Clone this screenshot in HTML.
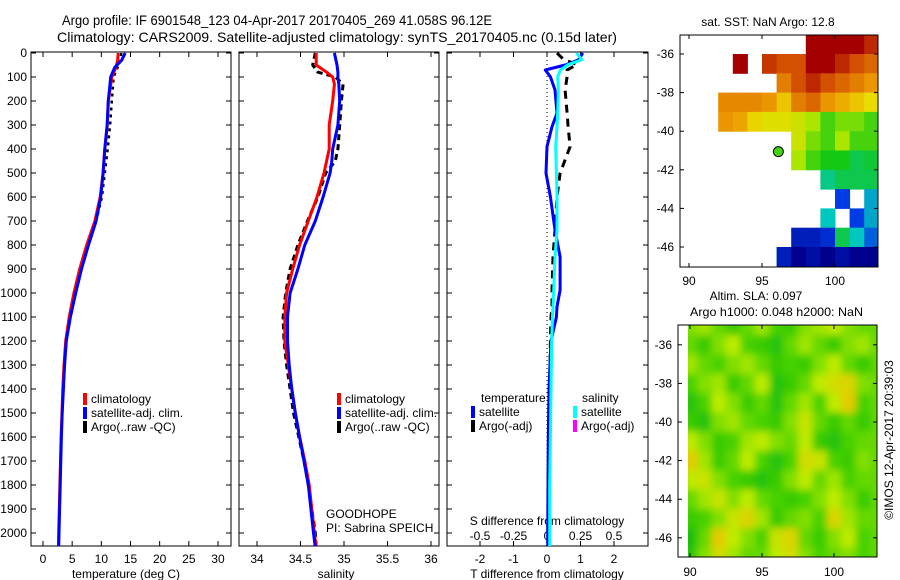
<!DOCTYPE html>
<html><head><meta charset="utf-8"><style>
html,body{margin:0;padding:0;background:#fff;}
svg{display:block;font-family:"Liberation Sans",Helvetica,sans-serif;}
text{fill:#000;font-size:12px;}
</style></head><body>
<svg id="fig" width="900" height="580" viewBox="0 0 900 580">
<defs>
<clipPath id="c1"><rect x="31" y="52" width="200" height="494"/></clipPath>
<clipPath id="c2"><rect x="239" y="52" width="200" height="494"/></clipPath>
<clipPath id="c3"><rect x="447" y="52" width="201" height="494"/></clipPath>
<clipPath id="cm1"><rect x="680" y="35" width="198" height="232"/></clipPath>
<clipPath id="cm2"><rect x="688" y="325" width="189" height="232"/></clipPath>
<filter id="blur" x="-5%" y="-5%" width="110%" height="110%"><feGaussianBlur stdDeviation="4"/></filter>
</defs>
<text x="62" y="25" textLength="430" lengthAdjust="spacingAndGlyphs" style="font-size:14px">Argo profile: IF 6901548_123 04-Apr-2017 20170405_269 41.058S 96.12E</text>
<text x="57" y="42" textLength="560" lengthAdjust="spacingAndGlyphs" style="font-size:14px">Climatology: CARS2009. Satellite-adjusted climatology: synTS_20170405.nc (0.15d later)</text>
<text x="768" y="26" text-anchor="middle">sat. SST: NaN Argo: 12.8</text>
<text x="756" y="300" text-anchor="middle">Altim. SLA: 0.097</text>
<text x="690" y="316" textLength="173" lengthAdjust="spacingAndGlyphs">Argo h1000: 0.048 h2000: NaN</text>
<text transform="translate(893,440) rotate(-90)" text-anchor="middle">©IMOS 12-Apr-2017 20:39:03</text>
<g id="root"></g>
</svg>
<script>
// ---- profile data ----
const depthT = [0,30,60,100,200,300,400,500,600,700,800,900,1000,1100,1200,1300,1400,1500,1600,1700,1800,1900,2000,2060];
const tempClim = [12.9,12.8,12.5,11.8,11.2,11.0,10.6,10.3,9.8,8.9,7.5,6.3,5.3,4.5,3.9,3.6,3.4,3.25,3.1,3.0,2.9,2.8,2.7,2.65];
const tempSat  = [14.1,13.5,12.3,11.6,11.2,11.0,10.6,10.3,9.9,9.1,7.8,6.6,5.6,4.7,4.0,3.7,3.5,3.3,3.15,3.05,2.95,2.85,2.75,2.7];
const tempArgo = [13.4,13.3,12.8,12.1,11.8,11.5,11.1,10.6,10.1,9.1,7.7,6.5,5.5,4.6,4.0,3.7,3.5,3.3,3.1,3.0,2.9,2.8,2.7,2.65];

const depthS = [0,50,80,100,130,200,300,400,450,500,600,700,800,900,1000,1100,1200,1300,1400,1500,1600,1700,1800,1900,2000,2060];
const salClim = [34.68,34.68,34.80,34.87,34.89,34.87,34.83,34.83,34.80,34.77,34.69,34.59,34.49,34.41,34.34,34.32,34.32,34.36,34.40,34.44,34.49,34.55,34.60,34.63,34.66,34.68];
const salSat  = [34.89,34.92,34.93,34.93,34.94,34.95,34.93,34.87,34.86,34.84,34.76,34.67,34.55,34.47,34.38,34.35,34.35,34.37,34.40,34.44,34.49,34.54,34.59,34.62,34.65,34.67];
const salArgo = [34.67,34.64,34.70,34.90,34.99,34.97,34.95,34.93,34.90,34.79,34.70,34.58,34.47,34.38,34.33,34.30,34.31,34.34,34.38,34.42,34.48,34.54,34.59,34.63,34.67,34.68];

const depthD = [0,28,48,71,99,154,251,307,390,501,599,738,849,988,1057,1100,1200,1400,1600,1800,2000,2060];
const dTsat  = [1.07,0.95,0.6,-0.05,0.1,0.24,0.3,0.15,0.0,-0.03,0.1,0.24,0.39,0.39,0.3,0.28,0.12,0.06,0.04,0.03,0.02,0.02];
const dTargo = [0.3,0.5,0.9,0.6,0.6,0.54,0.6,0.63,0.69,0.39,0.3,0.24,0.18,0.15,0.15,0.12,0.1,0.08,0.06,0.05,0.04,0.04];
const dSsat  = [0.22,0.26,0.16,0.1,0.08,0.085,0.08,0.075,0.065,0.07,0.075,0.075,0.06,0.05,0.045,0.04,0.035,0.03,0.025,0.02,0.02,0.02];

// ---- map data ----
const sstLons = [90,91,92,93,94,95,96,97,98,99,100,101,102];
const sstLatTops = [-35,-36,-37,-38,-39,-40,-41,-42,-43,-44,-45,-46];
const N = null;
const sstVals = [
 [N,N,N,N,N,N,N,N,17,17,17,17,16.5],
 [N,N,N,17,N,16.3,16,16,17,17,16.5,16,15.5],
 [N,N,N,N,N,N,15,16,16.5,16,15.5,15,14.5],
 [N,N,14.8,14.8,14.8,14.5,13.5,15,15.5,14.5,14,13.5,13],
 [N,N,14.5,14.2,13.2,12.8,12.8,12.5,12,11,11.5,11.5,11],
 [N,N,N,N,N,N,N,12.5,11.5,11,12,11,11],
 [N,N,N,N,N,N,N,12,11,10.5,10.5,10,10.2],
 [N,N,N,N,N,N,N,N,N,9.5,10,10,10],
 [N,N,N,N,N,N,N,N,N,N,7,N,8.5],
 [N,N,N,N,N,N,N,N,N,9,N,7,8.5],
 [N,N,N,N,N,N,N,6,6,6.5,10,9,7.5],
 [N,N,N,N,N,N,6,5,5.5,5,5.5,5,5]
];
const argoLon = 96.12, argoLat = -41.06, argoSST = 11;

const slaLons = [90,91,92,93,94,95,96,97,98,99,100,101,102];
const slaLats = [-35,-36,-37,-38,-39,-40,-41,-42,-43,-44,-45,-46,-47];
const slaVals = [
 [0.6,0.7,0.5,0.3,0.5,0.7,0.4,0.3,0.6,0.7,0.8,0.6,0.5],
 [0.5,0.3,0.6,0.8,0.4,0.3,0.2,0.5,0.7,0.5,0.3,0.6,0.7],
 [0.7,0.5,0.4,0.6,0.7,0.5,0.3,0.4,0.3,0.6,0.8,0.5,0.3],
 [0.4,0.6,0.7,0.3,0.5,0.8,0.2,0.3,0.5,0.8,1.0,1.1,0.6],
 [0.2,0.4,0.8,0.6,0.3,0.5,0.2,0.5,0.7,0.4,0.8,1.2,0.4],
 [0.3,0.2,0.6,0.7,0.5,0.4,0.3,0.6,0.9,0.5,0.3,0.5,0.3],
 [0.8,0.6,0.3,0.4,0.7,0.8,0.6,0.5,0.8,0.3,0.2,0.4,0.5],
 [1.2,0.7,0.3,0.5,0.8,0.4,0.2,0.4,1.0,0.9,0.4,0.3,0.6],
 [0.8,0.9,0.6,0.4,0.3,0.2,0.3,0.6,0.8,0.5,0.7,0.4,0.5],
 [0.5,0.7,0.9,0.6,0.8,0.5,0.4,0.3,0.4,0.6,0.8,0.6,0.3],
 [0.3,0.4,0.6,0.9,1.1,0.7,0.3,0.5,0.6,0.4,1.1,0.7,0.5],
 [0.1,0.5,1.2,0.8,0.6,0.4,0.9,1.1,0.5,0.3,0.6,0.8,0.4],
 [0.2,0.6,1.0,0.7,0.5,0.5,0.8,1.0,0.6,0.4,0.5,0.6,0.4]
];

const depthTicks = [0,100,200,300,400,500,600,700,800,900,1000,1100,1200,1300,1400,1500,1600,1700,1800,1900,2000];
const tempTicks = [0,5,10,15,20,25,30];
const salTicks = [34,34.5,35,35.5,36];
const salTickLabels = ["34","34.5","35","35.5","36"];
const dTTicks = [-2,-1,0,1,2];
const dSTicks = [-0.5,-0.25,0,0.25,0.5];
const dSTickLabels = ["-0.5","-0.25","0","0.25","0.5"];
const lonTicks = [90,95,100];
const latTicks = [-36,-38,-40,-42,-44,-46];

// ---- scales ----
const yD = d => 53 + d*0.24;
const xT = t => 43 + t*5.833;
const xS = s => 257 + (s-34)*87;
const xDT = v => 547 + v*33.5;
const xDS = v => 547 + v*134;
const m1x = l => 689 + (l-90)*14.6;
const m1y = l => 54 + (-36-l)*19.3;
const m2x = l => 690 + (l-90)*14.4;
const m2y = l => 422 + (-40-l)*19.3;

const NS = "http://www.w3.org/2000/svg";
const root = document.getElementById('root');
function mk(tag, attrs, parent){
  const e = document.createElementNS(NS, tag);
  for (const k in attrs) e.setAttribute(k, attrs[k]);
  (parent||root).appendChild(e);
  return e;
}
function txt(x,y,s,anchor,parent){
  const e = mk('text',{x:x,y:y,'text-anchor':anchor||'start'},parent);
  e.textContent = s;
  return e;
}
function line(xs, ys, xf, vals, depths, color, width, dash, clip, name){
  const pts = depths.map((d,i)=> xf(vals[i]).toFixed(1)+','+yD(d).toFixed(1)).join(' ');
  const a = {points:pts, fill:'none', stroke:color, 'stroke-width':width, 'stroke-linejoin':'round', 'clip-path':'url(#'+clip+')'};
  if (dash) a['stroke-dasharray'] = dash;
  const p = mk('polyline', a);
  
  
  return p;
}
function panelFrame(x0, x1, name){
  const g = mk('g',{});
  
  
  mk('rect',{x:x0,y:52,width:x1-x0,height:494,fill:'none',stroke:'#000','stroke-width':1},g);
  depthTicks.forEach(d=>{
    mk('line',{x1:x0,x2:x0+5,y1:yD(d),y2:yD(d),stroke:'#000'},g);
    mk('line',{x1:x1-5,x2:x1,y1:yD(d),y2:yD(d),stroke:'#000'},g);
  });
  return g;
}
function xTicks(g, ticks, labels, xf){
  ticks.forEach((t,i)=>{
    const x = xf(t);
    mk('line',{x1:x,x2:x,y1:52,y2:57,stroke:'#000'},g);
    mk('line',{x1:x,x2:x,y1:541,y2:546,stroke:'#000'},g);
    const e = txt(x,563,labels[i],'middle',g);
    
    
  });
}
function legendBar(x,y,color,label,g){
  mk('rect',{x:x,y:y-10,width:4,height:12,fill:color},g);
  txt(x+8,y,label,'start',g);
}

// Panel 1 temperature
const g1 = panelFrame(31,231,'temperature-panel');
xTicks(g1, tempTicks, tempTicks.map(String), xT);
depthTicks.forEach(d=>{
  const e = txt(27, yD(d)+4, String(d), 'end', g1);
  
  
});
const xl1 = txt(126,578,'temperature (deg C)','middle',g1);


line(0,0,xT,tempArgo,depthT,'#000',2.5,'3,4','c1','temp-argo-line');
line(0,0,xT,tempClim,depthT,'#ff0000',3,null,'c1','temp-climatology-line');
line(0,0,xT,tempSat,depthT,'#0000ff',3,null,'c1','temp-satellite-line');
const lg1 = mk('g',{});


legendBar(83,403,'#ff0000','climatology',lg1);
legendBar(83,417,'#0000ff','satellite-adj. clim.',lg1);
legendBar(83,431,'#000','Argo(..raw -QC)',lg1);

// Panel 2 salinity
const g2 = panelFrame(239,439,'salinity-panel');
xTicks(g2, salTicks, salTickLabels, xS);
const xl2 = txt(336,578,'salinity','middle',g2);


line(0,0,xS,salArgo,depthS,'#000',3,'6,4','c2','sal-argo-line');
line(0,0,xS,salClim,depthS,'#ff0000',3,null,'c2','sal-climatology-line');
line(0,0,xS,salSat,depthS,'#0000ff',3,null,'c2','sal-satellite-line');
const lg2 = mk('g',{});


legendBar(337,403,'#ff0000','climatology',lg2);
legendBar(337,417,'#0000ff','satellite-adj. clim.',lg2);
legendBar(337,431,'#000','Argo(..raw -QC)',lg2);
const gh = txt(326,518,'GOODHOPE','start',g2);


const pi = txt(326,532,'PI: Sabrina SPEICH','start',g2);



// Panel 3 difference
const g3 = panelFrame(447,648,'difference-panel');
xTicks(g3, dTTicks, dTTicks.map(String), xDT);
dSTicks.forEach((t,i)=>{
  const e = txt(xDS(t),540,dSTickLabels[i],'middle',g3);
  
  
});
const st = txt(547,525,'S difference from climatology','middle',g3);


const tt = txt(547,578,'T difference from climatology','middle',g3);


const zl = mk('line',{x1:xDT(0),x2:xDT(0),y1:52,y2:546,stroke:'#000','stroke-dasharray':'1,3','stroke-width':1});


line(0,0,xDT,dTargo,depthD,'#000',3,'8,6','c3','t-diff-argo-line');
line(0,0,xDT,dTsat,depthD,'#0000ff',3,null,'c3','t-diff-satellite-line');
line(0,0,xDS,dSsat,depthD,'#00ffff',3,null,'c3','s-diff-satellite-line');
const lg3 = mk('g',{});


txt(481,402,'temperature','start',lg3);
txt(582,402,'salinity','start',lg3);
legendBar(471,416,'#0000ff','satellite',lg3);
legendBar(471,430,'#000','Argo(-adj)',lg3);
legendBar(573,416,'#00ffff','satellite',lg3);
legendBar(573,430,'#ff00ff','Argo(-adj)',lg3);

// colormaps
function interp(stops, v){
  if (v<=stops[0][0]) return 'rgb('+stops[0][1].join(',')+')';
  const L = stops[stops.length-1];
  if (v>=L[0]) return 'rgb('+L[1].join(',')+')';
  for (let i=0;i<stops.length-1;i++){
    const a=stops[i], b=stops[i+1];
    if (v>=a[0] && v<=b[0]){
      const f=(v-a[0])/(b[0]-a[0]);
      return 'rgb('+[0,1,2].map(k=>Math.round(a[1][k]+(b[1][k]-a[1][k])*f)).join(',')+')';
    }
  }
}
const sstStops = [[5,[0,0,140]],[7,[0,60,230]],[9,[0,200,190]],[10.5,[20,200,20]],[12,[170,230,0]],[13,[235,220,0]],[14.5,[235,150,0]],[16,[210,80,0]],[17,[165,0,0]]];
const slaStops = [[0,[10,180,20]],[0.4,[70,210,0]],[0.8,[190,235,0]],[1.3,[240,195,0]]];

function mapFrame(x0,y0,x1,y1,xf,yf,labelY,name){
  const g = mk('g',{});
  
  
  mk('rect',{x:x0,y:y0,width:x1-x0,height:y1-y0,fill:'none',stroke:'#000'},g);
  lonTicks.forEach(l=>{
    const x = xf(l);
    mk('line',{x1:x,x2:x,y1:y1-4,y2:y1,stroke:'#000'},g);
    mk('line',{x1:x,x2:x,y1:y0,y2:y0+4,stroke:'#000'},g);
    const e = txt(x,labelY,String(l),'middle',g);
    
    
  });
  latTicks.forEach(l=>{
    const y = yf(l);
    mk('line',{x1:x0,x2:x0+4,y1:y,y2:y,stroke:'#000'},g);
    mk('line',{x1:x1-4,x2:x1,y1:y,y2:y,stroke:'#000'},g);
    const e = txt(x0-6,y+4,String(l),'end',g);
    
    
  });
}

// SST map
const sstG = mk('g',{'clip-path':'url(#cm1)'});


sstLatTops.forEach((lt,r)=>{
  sstLons.forEach((ln,c)=>{
    const v = sstVals[r][c];
    if (v===null) return;
    const x = m1x(ln), y = m1y(lt);
    const cell = mk('rect',{x:x.toFixed(1),y:y.toFixed(1),width:(m1x(ln+1)-x+0.5).toFixed(1),height:(m1y(lt-1)-y+0.5).toFixed(1),fill:interp(sstStops,v)},sstG);
    
    
  });
});
mapFrame(680,35,878,267,m1x,m1y,285,'sst-map-axes');
const dot = mk('circle',{cx:m1x(argoLon),cy:m1y(argoLat),r:5,fill:interp(sstStops,argoSST),stroke:'#000','stroke-width':1});



// SLA map
const slaOuter = mk('g',{'clip-path':'url(#cm2)'});


mk('rect',{x:688,y:325,width:189,height:232,fill:interp(slaStops,0.5)},slaOuter);
const slaG = mk('g',{filter:'url(#blur)'},slaOuter);
slaLats.forEach((la,r)=>{
  slaLons.forEach((ln,c)=>{
    const x = m2x(ln-0.5), y = m2y(la+0.5);
    const cell = mk('rect',{x:x.toFixed(1),y:y.toFixed(1),width:(m2x(ln+0.5)-x+0.5).toFixed(1),height:(m2y(la-0.5)-y+0.5).toFixed(1),fill:interp(slaStops,slaVals[r][c])},slaG);
    
    
  });
});
mapFrame(678,325,877,557,m2x,m2y,576,'sla-map-axes');
</script>
</body></html>
